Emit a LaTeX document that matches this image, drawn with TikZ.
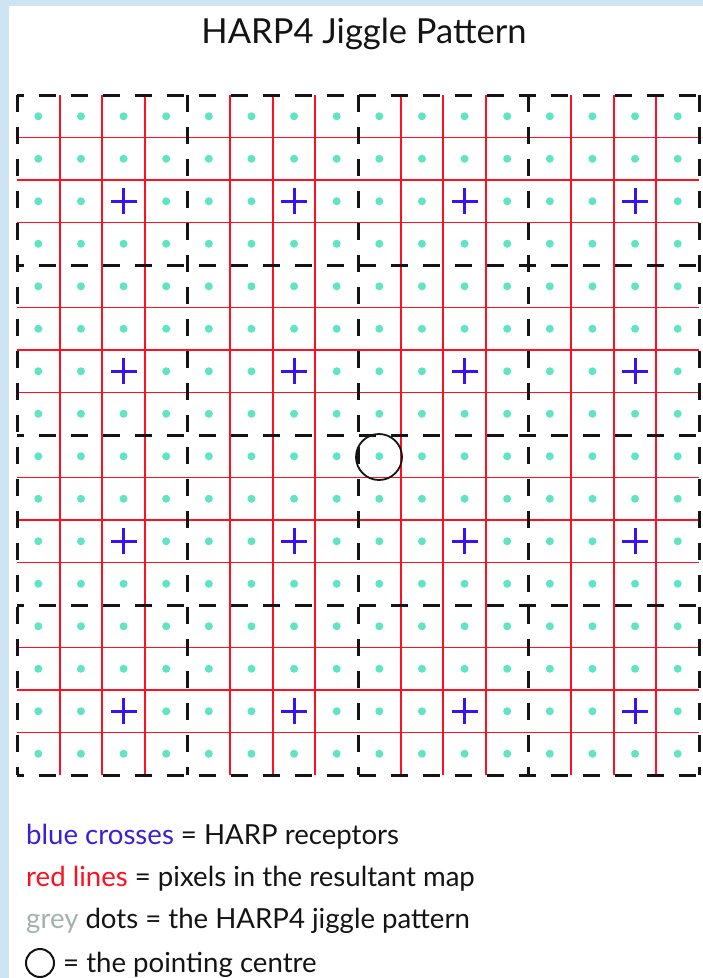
\documentclass[tikz,border=0pt]{standalone}
\usepackage{fontspec}
\setmainfont{Lato}
\definecolor{bgblue}{HTML}{CFE4F2}
\definecolor{dotc}{RGB}{95,228,196}
\definecolor{crossc}{HTML}{3A10F5}
\definecolor{redl}{HTML}{FF0F1F}
\definecolor{greyt}{HTML}{A3B3AC}
\definecolor{bluet}{HTML}{3A1FD6}
\definecolor{inkc}{HTML}{141414}
\begin{document}
\begin{tikzpicture}[x=1pt,y=-1pt,
  redline/.style={draw=redl,line width=1.9pt},
  blockline/.style={draw=inkc,line width=3pt},
  crossline/.style={draw=crossc,line width=3pt},
  legendtext/.style={anchor=base west,inner sep=0pt,text=inkc,font=\fontsize{27.6}{32}\selectfont},
  titletext/.style={anchor=base,inner sep=0pt,text=inkc,font=\fontsize{34.5}{40}\selectfont}]
\useasboundingbox (0,0) rectangle (703,978);
\fill[bgblue] (0,0) rectangle (703,978);
\fill[white] (9,6) rectangle (703,978);
% red pixel lines
\foreach \k in {1,2,3,5,6,7,9,10,11,13,14,15}{
  \draw[redline] ({17+42.625*\k},95) -- ({17+42.625*\k},775);
  \draw[redline] (17,{95+42.5*\k}) -- (699,{95+42.5*\k});
}
% jiggle dots
\foreach \i in {0,...,15}{
  \foreach \j in {0,...,15}{
    \pgfmathtruncatemacro\isx{and(mod(\i,4)==2,mod(\j,4)==2)}
    \ifnum\isx=0
      \fill[dotc] ({17+42.625*(\i+0.5)},{95+42.5*(\j+0.5)}) circle[radius=4];
    \fi
  }
}
% receptors
\foreach \i in {2,6,10,14}{
  \foreach \j in {2,6,10,14}{
    \draw[crossline] ({17+42.625*(\i+0.5)-13},{95+42.5*(\j+0.5)}) -- ++(26,0);
    \draw[crossline] ({17+42.625*(\i+0.5)},{95+42.5*(\j+0.5)-13}) -- ++(0,26);
  }
}
% block outlines
\foreach \k in {0,4,8,12,16}{
  \draw[blockline,dash=on 17pt off 15pt phase 0pt] ({17+42.625*\k},95) -- ({17+42.625*\k},775);
  \draw[blockline,dash=on 17pt off 15pt phase 10pt] (17,{95+42.5*\k}) -- (699,{95+42.5*\k});
}
% pointing centre
\coordinate (pc) at (379,457);
\draw[draw=inkc,line width=1.8pt] (pc) circle[radius=23];
% texts
\node[titletext] (title) at (364,43) {HARP4 Jiggle Pattern};
\node[legendtext] (l1) at (26,844) {\textcolor{bluet}{blue crosses} = HARP receptors};
\node[legendtext] (l2) at (26,886) {\textcolor{redl}{red lines} = pixels in the resultant map};
\node[legendtext] (l3) at (26,928) {\textcolor{greyt}{grey} dots = the HARP4 jiggle pattern};
\coordinate (lc) at (40,963);
\draw[draw=inkc,line width=2pt] (lc) circle[radius=14];
\node[legendtext] (l4) at (63,972) {= the pointing centre};
\end{tikzpicture}
\end{document}
